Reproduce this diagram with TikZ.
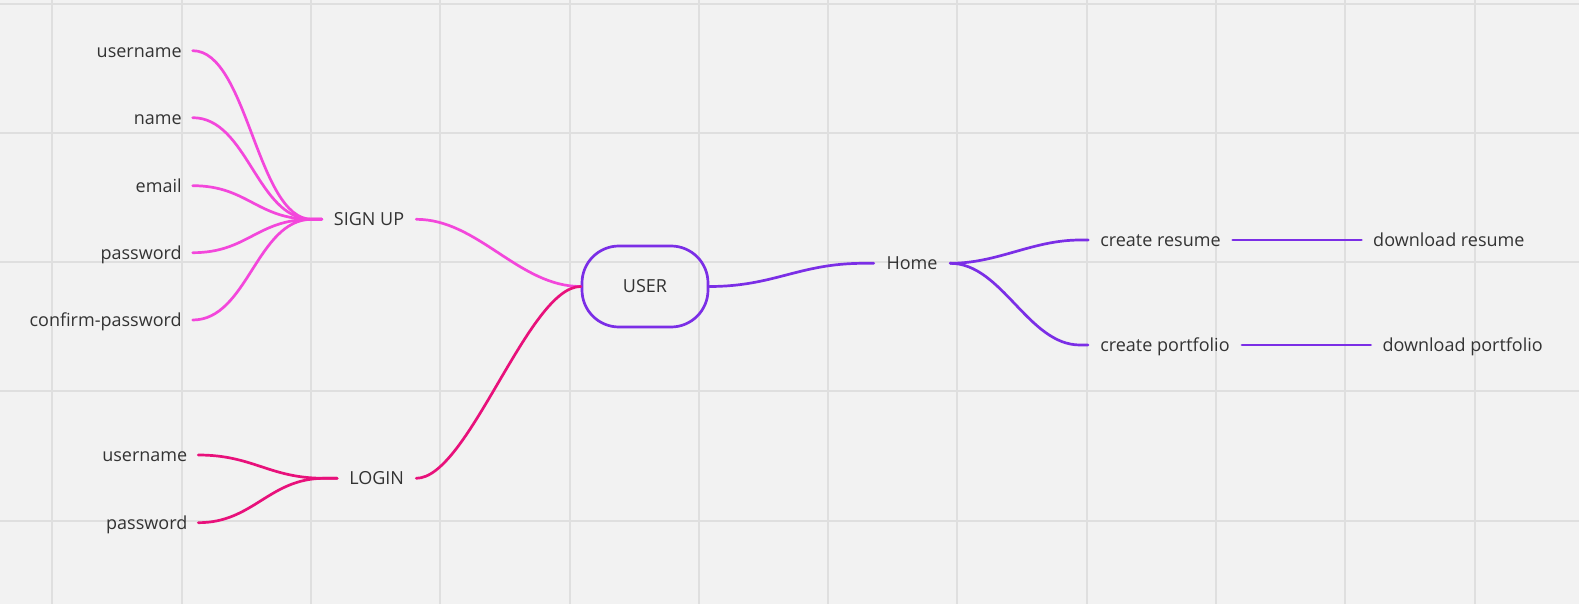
\documentclass[tikz,border=0pt]{standalone}
\usepackage{fontspec}
\setmainfont{Open Sans}
\definecolor{bgc}{HTML}{F2F2F2}
\definecolor{gridc}{HTML}{DFDFDF}
\definecolor{txtc}{HTML}{333333}
\definecolor{signc}{HTML}{F347DB}
\definecolor{loginc}{HTML}{E8117B}
\definecolor{purc}{HTML}{7B2EE6}
\tikzset{
  lbl/.style={font=\fontsize{18pt}{21pt}\selectfont, text=txtc, inner ysep=0pt,
    text height=1.34em, text depth=0.06em},
  leafl/.style={lbl, inner xsep=10.8pt, anchor=east},
  leafr/.style={lbl, inner xsep=11.6pt, anchor=west},
  midnode/.style={lbl, inner xsep=0pt},
  usernode/.style={lbl, draw=purc, line width=2.7pt, rounded corners=37pt,
    minimum width=126pt, minimum height=81pt, inner xsep=0pt,
    text height=1.3em, text depth=0.05em},
  conn/.style={line width=2.7pt, line cap=round},
  signline/.style={conn, draw=signc},
  loginline/.style={conn, draw=loginc},
  purline/.style={conn, draw=purc},
  gridline/.style={draw=gridc, line width=1.5pt}
}
\begin{document}
\begin{tikzpicture}[x=1pt,y=-1pt]
\useasboundingbox (0,0) rectangle (1579,604);
\fill[bgc] (0,0) rectangle (1579,604);
\foreach \k in {0,...,11} {
  \draw[gridline] ({round(52.3+129.3*\k)},0) -- ({round(52.3+129.3*\k)},604);
}
\foreach \k in {0,...,4} {
  \draw[gridline] (0,{round(3.5+129.3*\k)}) -- (1579,{round(3.5+129.3*\k)});
}

% nodes
\node[leafl] (su1) at (192.7,50.7) {username};
\node[leafl] (su2) at (192.7,117.7) {name};
\node[leafl] (su3) at (192.7,185.7) {email};
\node[leafl] (su4) at (192.7,252.7) {password};
\node[leafl] (su5) at (192.7,320) {confirm-password};
\node[midnode, minimum width=94pt] (signup) at (369,219.3) {SIGN UP};

\node[leafl] (lu) at (198.3,455) {username};
\node[leafl] (lp) at (198.3,522.7) {password};
\node[midnode, minimum width=78.7pt] (login) at (376.7,478.3) {LOGIN};

\node[usernode] (user) at (645,286.5) {USER};

\node[midnode, minimum width=76pt] (home) at (912,263.3) {Home};
\node[midnode, minimum width=144pt] (cr) at (1160.5,240) {create resume};
\node[midnode, minimum width=153.5pt] (cp) at (1165,345) {create portfolio};
\node[leafr] (dr) at (1361.4,240) {download resume};
\node[leafr] (dp) at (1370.7,345) {download portfolio};

% connectors: sign up
\foreach \n in {su1,su2,su3,su4,su5} {
  \draw[signline] (\n.east) .. controls +(55,0) and +(-55,0) .. ([xshift=-10pt]signup.west) -- (signup.west);
}
\draw[signline] (signup.east) .. controls +(62,0) and +(-62,0) .. (user.west);

% connectors: login
\foreach \n in {lu,lp} {
  \draw[loginline] (\n.east) .. controls +(55,0) and +(-55,0) .. ([xshift=-13pt]login.west) -- (login.west);
}
\draw[loginline] (login.east) .. controls +(52,0) and +(-52,0) .. (user.west);

% connectors: purple
\draw[purline] (user.east) .. controls +(65,0) and +(-65,0) .. ([xshift=-10pt]home.west) -- (home.west);
\draw[purline] (home.east) .. controls +(48,0) and +(-48,0) .. ([xshift=-8pt]cr.west) -- (cr.west);
\draw[purline] (home.east) .. controls +(52,0) and +(-52,0) .. ([xshift=-8pt]cp.west) -- (cp.west);
\draw[purline] (cr.east) -- (dr.west);
\draw[purline] (cp.east) -- (dp.west);
\end{tikzpicture}
\end{document}
